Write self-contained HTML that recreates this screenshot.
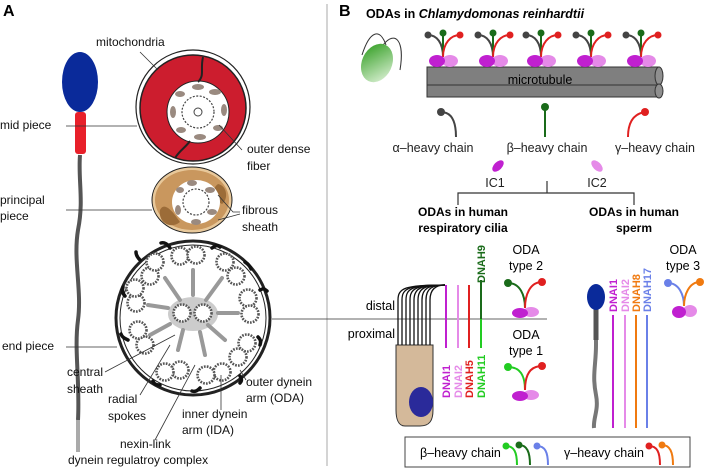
<!DOCTYPE html>
<html><head><meta charset="utf-8"><style>
body{margin:0;background:#fff}
svg{display:block;font-family:"Liberation Sans",Arial,sans-serif}
</style></head><body>
<svg width="706" height="470" viewBox="0 0 706 470" xmlns="http://www.w3.org/2000/svg">
<defs>
<g id="chl">
<path d="M0,0 C0,-14 -6,-22 -15,-22" stroke="#444" stroke-width="2" fill="none"/>
<circle cx="-15" cy="-22" r="3.5" fill="#444"/>
<line x1="0" y1="0" x2="0" y2="-24" stroke="#1a6b1a" stroke-width="2"/>
<circle cx="0" cy="-24" r="3.5" fill="#1a6b1a"/>
<path d="M0,0 C0,-14 8,-22 17,-22" stroke="#e02020" stroke-width="2" fill="none"/>
<circle cx="17" cy="-22" r="3.5" fill="#e02020"/>
<ellipse cx="7" cy="4" rx="8" ry="6" fill="#e58ae8"/>
<ellipse cx="-6" cy="4" rx="8" ry="6" fill="#c020d0"/>
</g>
<g id="bead"><circle r="8.5" fill="#fff" stroke="#555" stroke-width="2.6" stroke-dasharray="1.7 1.2"/></g>
</defs>

<line x1="327" y1="4" x2="327" y2="466" stroke="#aaa" stroke-width="1"/>
<text x="3" y="16" font-size="16" font-weight="bold">A</text>
<text x="339" y="16" font-size="16" font-weight="bold">B</text>

<path d="M80,155 C78,180 84,200 78,230 C73,260 82,290 78,320 C74,350 80,380 78,420" stroke="#555" stroke-width="4" fill="none"/>
<path d="M78,420 L78,452" stroke="#aaa" stroke-width="4"/>
<rect x="75" y="112" width="11" height="42" rx="3" fill="#e8202a"/>
<ellipse cx="80" cy="82" rx="18" ry="30" fill="#0a2a9a"/>

<circle cx="193" cy="107" r="57" fill="#fff" stroke="#222" stroke-width="1.2"/>
<circle cx="193" cy="108" r="53" fill="#cc1d2e" stroke="#222" stroke-width="1.5"/>
<circle cx="198" cy="112" r="31" fill="#fff" stroke="#222" stroke-width="1"/>
<path d="M203,57 C200,70 205,75 198,82" stroke="#222" stroke-width="2" fill="none"/>
<path d="M190,141 C185,148 180,150 175,158" stroke="#222" stroke-width="2" fill="none"/>
<g fill="#9a8a80">
<ellipse cx="198" cy="87" rx="6" ry="3"/><ellipse cx="215" cy="92" rx="6" ry="3"/><ellipse cx="224" cy="110" rx="3" ry="6"/><ellipse cx="218" cy="128" rx="5" ry="3"/><ellipse cx="200" cy="137" rx="6" ry="3"/><ellipse cx="181" cy="130" rx="5" ry="3"/><ellipse cx="173" cy="112" rx="3" ry="6"/><ellipse cx="180" cy="94" rx="5" ry="3"/>
</g>
<circle cx="198" cy="112" r="16" fill="none" stroke="#444" stroke-width="1.2" stroke-dasharray="2 1.5"/>
<circle cx="198" cy="112" r="4" fill="none" stroke="#444"/>

<ellipse cx="192" cy="200" rx="40" ry="33" fill="#e8c89a" stroke="#222" stroke-width="1"/>
<ellipse cx="192" cy="200" rx="37" ry="30" fill="#c9975e"/>
<path d="M160,210 C165,200 175,215 180,222 C170,230 158,222 160,210Z" fill="#9c6c38"/>
<path d="M218,184 C228,186 228,200 222,204 C214,200 210,190 218,184Z" fill="#9c6c38"/>
<ellipse cx="196" cy="202" rx="24" ry="22" fill="#fff"/>
<g fill="#9a8a80"><ellipse cx="192" cy="183" rx="5" ry="3"/><ellipse cx="210" cy="190" rx="5" ry="3"/><ellipse cx="212" cy="212" rx="5" ry="3"/><ellipse cx="196" cy="222" rx="5" ry="3"/><ellipse cx="178" cy="210" rx="3" ry="5"/><ellipse cx="180" cy="190" rx="4" ry="3"/></g>
<circle cx="196" cy="202" r="13" fill="none" stroke="#444" stroke-width="1.2" stroke-dasharray="2 1.5"/>

<circle cx="193" cy="318" r="77" fill="#fff" stroke="#222" stroke-width="3"/>
<circle cx="193" cy="318" r="73" fill="none" stroke="#222" stroke-width="1"/>
<ellipse cx="193" cy="314" rx="25" ry="17" fill="#ccc"/>
<g stroke="#999" stroke-width="4" stroke-linecap="round">
<line x1="193" y1="270" x2="193" y2="295"/><line x1="165" y1="278" x2="180" y2="300"/><line x1="222" y1="278" x2="206" y2="300"/>
<line x1="148" y1="305" x2="168" y2="308"/><line x1="238" y1="313" x2="218" y2="313"/><line x1="150" y1="335" x2="170" y2="324"/>
<line x1="225" y1="340" x2="208" y2="325"/><line x1="178" y1="350" x2="183" y2="330"/><line x1="205" y1="355" x2="200" y2="332"/>
</g>
<use href="#bead" x="182" y="313"/><use href="#bead" x="203" y="313"/>
<g>
<use href="#bead" x="180" y="256"/><use href="#bead" x="196" y="255"/>
<use href="#bead" x="225" y="262"/><use href="#bead" x="236" y="276"/>
<use href="#bead" x="248" y="298"/><use href="#bead" x="250" y="314"/>
<use href="#bead" x="247" y="343"/><use href="#bead" x="238" y="357"/>
<use href="#bead" x="222" y="372"/><use href="#bead" x="206" y="375"/>
<use href="#bead" x="180" y="370"/><use href="#bead" x="165" y="372"/>
<use href="#bead" x="145" y="345"/><use href="#bead" x="138" y="330"/>
<use href="#bead" x="136" y="303"/><use href="#bead" x="135" y="288"/>
<use href="#bead" x="150" y="276"/><use href="#bead" x="155" y="262"/>
</g>
<g stroke="#111" stroke-width="3.5" fill="none" stroke-linecap="round">
<path d="M170,248 c-2,-4 -6,-6 -9,-5"/><path d="M212,248 c4,-3 6,-3 8,-1"/><path d="M245,262 c3,2 5,4 6,7"/>
<path d="M260,290 c3,-2 5,-1 7,1"/><path d="M258,337 c3,3 3,5 2,8"/><path d="M240,376 c2,3 2,5 0,7"/>
<path d="M200,388 c-3,3 -5,4 -8,3"/><path d="M160,385 c-4,0 -6,-1 -7,-4"/><path d="M128,340 c-4,-2 -6,-3 -7,-6"/>
<path d="M125,296 c-3,-3 -3,-6 -2,-9"/><path d="M140,260 c-3,-3 -4,-5 -4,-8"/>
</g>

<g stroke="#333" stroke-width="0.8" fill="none">
<line x1="66" y1="126" x2="137" y2="126"/><line x1="140" y1="52" x2="158" y2="70"/>
<line x1="219" y1="125" x2="242" y2="150"/><line x1="66" y1="210" x2="152" y2="210"/>
<polyline points="218,195 233,212 240,212"/><line x1="218" y1="220" x2="240" y2="214"/>
<line x1="66" y1="347" x2="117" y2="347"/><line x1="272" y1="319" x2="547" y2="319"/>
<line x1="105" y1="372" x2="175" y2="335"/><line x1="140" y1="395" x2="170" y2="345"/>
<line x1="155" y1="440" x2="195" y2="365"/><line x1="221" y1="410" x2="221" y2="375"/><line x1="246" y1="380" x2="240" y2="370"/>
</g>
<g font-size="12" fill="#111">
<text x="96" y="46">mitochondria</text>
<text x="0" y="129">mid piece</text>
<text x="247" y="153">outer dense</text><text x="247" y="170">fiber</text>
<text x="0" y="204">principal</text><text x="0" y="220">piece</text>
<text x="242" y="214">fibrous</text><text x="242" y="231">sheath</text>
<text x="2" y="350">end piece</text>
<text x="67" y="376">central</text><text x="67" y="393">sheath</text>
<text x="108" y="403">radial</text><text x="108" y="420">spokes</text>
<text x="182" y="418">inner dynein</text><text x="182" y="434">arm (IDA)</text>
<text x="246" y="386">outer dynein</text><text x="246" y="402">arm (ODA)</text>
<text x="120" y="448">nexin-link</text>
<text x="68" y="464">dynein regulatroy complex</text>
</g>

<text x="475" y="18" font-size="12.5" font-weight="bold" text-anchor="middle">ODAs in <tspan font-style="italic">Chlamydomonas reinhardtii</tspan></text>
<path d="M362,55 C370,30 380,28 386,45" stroke="#333" fill="none"/><path d="M383,45 C395,30 405,40 400,70" stroke="#333" fill="none"/>
<defs><linearGradient id="gg" x1="0" y1="0" x2="1" y2="1"><stop offset="0" stop-color="#2a9a1a"/><stop offset="1" stop-color="#e6f6e0"/></linearGradient></defs>
<ellipse cx="377" cy="63" rx="15" ry="20" transform="rotate(25 377 63)" fill="url(#gg)"/>
<rect x="427" y="67" width="232" height="30" fill="#7f7f7f" stroke="#333"/>
<line x1="427" y1="85" x2="659" y2="85" stroke="#333"/>
<ellipse cx="659" cy="76" rx="4" ry="9" fill="#8f8f8f" stroke="#333"/>
<ellipse cx="659" cy="91" rx="4" ry="7" fill="#8f8f8f" stroke="#333"/>
<text x="540" y="84" font-size="12.5" text-anchor="middle">microtubule</text>
<use href="#chl" x="443" y="57"/><use href="#chl" x="493" y="57"/><use href="#chl" x="541" y="57"/><use href="#chl" x="591" y="57"/><use href="#chl" x="641" y="57"/>
<circle cx="441" cy="112" r="4" fill="#444"/><path d="M441,112 C452,112 456,122 456,137" stroke="#444" stroke-width="2" fill="none"/>
<circle cx="545" cy="107" r="4" fill="#1a6b1a"/><line x1="545" y1="107" x2="545" y2="137" stroke="#1a6b1a" stroke-width="2"/>
<circle cx="645" cy="112" r="4" fill="#e02020"/><path d="M645,112 C632,114 628,124 628,137" stroke="#e02020" stroke-width="2" fill="none"/>
<g font-size="12.5" fill="#222" text-anchor="middle">
<text x="433" y="152">α–heavy chain</text><text x="547" y="152">β–heavy chain</text><text x="655" y="152">γ–heavy chain</text>
<text x="495" y="187">IC1</text><text x="597" y="187">IC2</text>
</g>
<ellipse cx="498" cy="166" rx="4" ry="7" transform="rotate(45 498 166)" fill="#c020d0"/>
<ellipse cx="597" cy="166" rx="4" ry="7" transform="rotate(-45 597 166)" fill="#e58ae8"/>
<path d="M547,181 V193 M458,205 V193 H634 V205" stroke="#333" stroke-width="1.2" fill="none"/>
<g font-size="12" font-weight="bold" text-anchor="middle">
<text x="463" y="216">ODAs in human</text><text x="463" y="232">respiratory cilia</text>
<text x="634" y="216">ODAs in human</text><text x="634" y="232">sperm</text>
</g>

<path d="M396,345 H433 V410 C433,420 430,426 420,426 H405 C398,426 396,418 396,410Z" fill="#d4b99a" stroke="#333"/>
<ellipse cx="421" cy="402" rx="12" ry="15" fill="#2a2a9a"/>
<g stroke="#111" stroke-width="1.3" fill="none">
<path d="M398,345 V300 C398,288 405,285 445,285"/><path d="M402,345 V300 C402,288 409,285 445,285"/>
<path d="M406,345 V300 C406,288 413,285 445,285"/><path d="M410,345 V300 C410,288 417,285 445,285"/>
<path d="M414,345 V300 C414,288 421,285 445,285"/><path d="M418,345 V300 C418,288 425,285 445,285"/>
<path d="M422,345 V300 C422,288 429,285 445,285"/><path d="M426,345 V300 C426,288 433,285 445,285"/>
<path d="M430,345 V300 C430,288 437,285 445,285"/>
</g>
<text x="395" y="310" font-size="12.5" text-anchor="end">distal</text>
<text x="395" y="338" font-size="12.5" text-anchor="end">proximal</text>
<g stroke-width="2">
<line x1="446" y1="285" x2="446" y2="348" stroke="#c020d0"/>
<line x1="458" y1="285" x2="458" y2="348" stroke="#e58ae8"/>
<line x1="469" y1="285" x2="469" y2="348" stroke="#e02020"/>
<line x1="481" y1="280" x2="481" y2="319" stroke="#1a6b1a"/>
<line x1="481" y1="319" x2="481" y2="348" stroke="#22cc22"/>
</g>
<g font-size="11" font-weight="bold">
<text transform="translate(450,398) rotate(-90)" fill="#c020d0">DNAI1</text>
<text transform="translate(462,398) rotate(-90)" fill="#e58ae8">DNAI2</text>
<text transform="translate(473,398) rotate(-90)" fill="#e02020">DNAH5</text>
<text transform="translate(485,398) rotate(-90)" fill="#22cc22">DNAH11</text>
<text transform="translate(485,283) rotate(-90)" fill="#1a6b1a">DNAH9</text>
</g>
<g font-size="12.5" text-anchor="middle">
<text x="526" y="254">ODA</text><text x="526" y="270">type 2</text>
<text x="526" y="339">ODA</text><text x="526" y="355">type 1</text>
<text x="683" y="254">ODA</text><text x="683" y="270">type 3</text>
</g>
<g stroke-width="2" fill="none">
<path d="M525,308 C525,295 520,283 508,283" stroke="#1a6b1a"/><path d="M525,308 C525,295 530,282 542,282" stroke="#e02020"/>
<path d="M525,390 C525,375 520,367 508,367" stroke="#22cc22"/><path d="M525,390 C525,375 530,366 542,366" stroke="#e02020"/>
<path d="M684,306 C684,295 679,283 668,283" stroke="#6a80e8"/><path d="M684,306 C684,295 689,282 700,282" stroke="#f07a10"/>
</g>
<circle cx="508" cy="283" r="4" fill="#1a6b1a"/><circle cx="542" cy="282" r="4" fill="#e02020"/>
<circle cx="508" cy="367" r="4" fill="#22cc22"/><circle cx="542" cy="366" r="4" fill="#e02020"/>
<circle cx="668" cy="283" r="4" fill="#6a80e8"/><circle cx="700" cy="282" r="4" fill="#f07a10"/>
<ellipse cx="531" cy="312" rx="8" ry="5" fill="#e58ae8"/><ellipse cx="520" cy="313" rx="8" ry="5" fill="#c020d0"/>
<ellipse cx="531" cy="395" rx="8" ry="5" fill="#e58ae8"/><ellipse cx="520" cy="396" rx="8" ry="5" fill="#c020d0"/>
<ellipse cx="690" cy="311" rx="7" ry="6" fill="#e58ae8"/><ellipse cx="679" cy="312" rx="7" ry="6" fill="#c020d0"/>

<path d="M596,318 V345 C596,365 592,375 596,395 C599,410 593,418 594,428" stroke="#777" stroke-width="4" fill="none"/>
<path d="M596,308 V340" stroke="#555" stroke-width="5"/>
<ellipse cx="596" cy="297" rx="9" ry="13" fill="#0a2a9a"/>
<g stroke-width="2">
<line x1="613" y1="315" x2="613" y2="428" stroke="#c020d0"/>
<line x1="625" y1="315" x2="625" y2="428" stroke="#e58ae8"/>
<line x1="636" y1="315" x2="636" y2="428" stroke="#f07a10"/>
<line x1="647" y1="315" x2="647" y2="428" stroke="#6a80e8"/>
</g>
<g font-size="11" font-weight="bold">
<text transform="translate(617,312) rotate(-90)" fill="#c020d0">DNAI1</text>
<text transform="translate(629,312) rotate(-90)" fill="#e58ae8">DNAI2</text>
<text transform="translate(640,312) rotate(-90)" fill="#f07a10">DNAH8</text>
<text transform="translate(651,312) rotate(-90)" fill="#6a80e8">DNAH17</text>
</g>

<rect x="405" y="437" width="285" height="30" fill="#fff" stroke="#444"/>
<text x="420" y="457" font-size="12.5">β–heavy chain</text>
<text x="564" y="457" font-size="12.5">γ–heavy chain</text>
<g stroke-width="2" fill="none">
<path d="M517,465 C517,452 514,446 506,446" stroke="#22cc22"/>
<path d="M530,465 C530,452 527,445 519,445" stroke="#1a6b1a"/>
<path d="M548,465 C548,452 545,446 537,446" stroke="#6a80e8"/>
<path d="M660,465 C660,452 657,446 649,446" stroke="#e02020"/>
<path d="M673,465 C673,452 670,445 662,445" stroke="#f07a10"/>
</g>
<circle cx="506" cy="446" r="3.5" fill="#22cc22"/><circle cx="519" cy="445" r="3.5" fill="#1a6b1a"/><circle cx="537" cy="446" r="3.5" fill="#6a80e8"/>
<circle cx="649" cy="446" r="3.5" fill="#e02020"/><circle cx="662" cy="445" r="3.5" fill="#f07a10"/>
</svg>
</body></html>
